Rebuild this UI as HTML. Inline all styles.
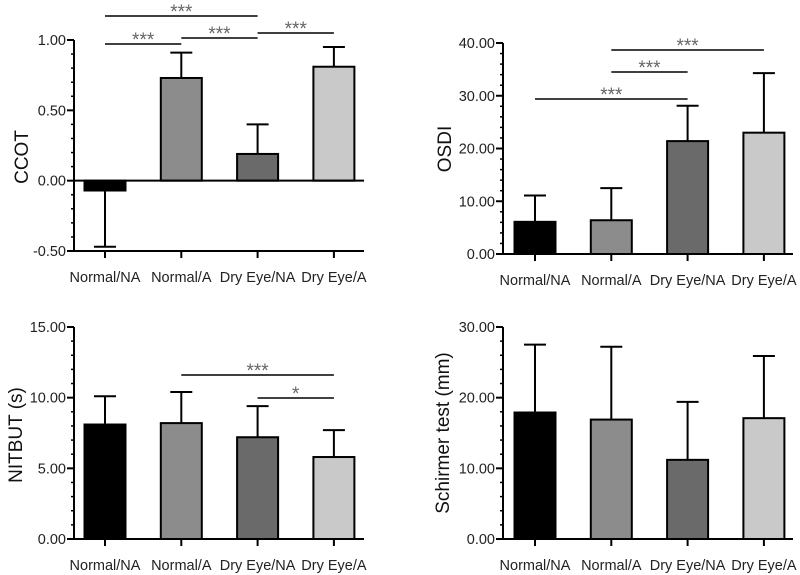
<!DOCTYPE html>
<html><head><meta charset="utf-8"><style>
body{margin:0;background:#fff}
svg{display:block;font-family:"Liberation Sans",Arial,sans-serif}
</style></head><body>
<svg id="c" width="800" height="575" viewBox="0 0 800 575" xmlns="http://www.w3.org/2000/svg"></svg>
<script>
const categories=["Normal/NA","Normal/A","Dry Eye/NA","Dry Eye/A"];
const ccotMeans=[-0.07,0.73,0.19,0.81];
const ccotErr=[-0.47,0.91,0.40,0.95];
const osdiMeans=[6.1,6.4,21.4,23.0];
const osdiErr=[11.1,12.5,28.1,34.3];
const nitbutMeans=[8.1,8.2,7.2,5.8];
const nitbutErr=[10.1,10.4,9.4,7.7];
const schirmerMeans=[17.9,16.9,11.2,17.1];
const schirmerErr=[27.5,27.2,19.4,25.9];
const ccotTicks=[-0.5,0,0.5,1.0];
const osdiTicks=[0,10,20,30,40];
const nitbutTicks=[0,5,10,15];
const schirmerTicks=[0,10,20,30];
const fills=["#000000","#8c8c8c","#6a6a6a","#c9c9c9"];
const NS="http://www.w3.org/2000/svg";
const svg=document.getElementById('c');
function mk(tag,at,parent,txt){const e=document.createElementNS(NS,tag);for(const k in at)e.setAttribute(k,at[k]);if(txt!==undefined)e.textContent=txt;(parent||svg).appendChild(e);return e;}
function panel(o){
  const g=mk('g',{});
  
  
  const y=v=>o.y0+(v-o.min)/(o.max-o.min)*(o.y1-o.y0);
  const x=i=>o.cx0+i*o.step;
  const bw=41;
  o.means.forEach((m,i)=>{
    const top=Math.min(y(m),y(o.base)),h=Math.abs(y(m)-y(o.base));
    const r=mk('rect',{x:x(i)-bw/2,y:top,width:bw,height:h,fill:fills[i],stroke:'#000','stroke-width':2},g);
    
    
    const e=o.err[i];
    const ey=y(m);
    const l=mk('path',{d:`M${x(i)},${ey}V${y(e)}M${x(i)-11},${y(e)}H${x(i)+11}`,stroke:'#000','stroke-width':2,fill:'none'},g);
    
    
  });
  const ax=mk('line',{x1:o.ax,x2:o.ax,y1:y(o.min),y2:y(o.max),stroke:'#000','stroke-width':2},g);
  
  
  for(let v=o.min;v<=o.max+1e-9;v+=o.minor){mk('line',{x1:o.ax-3,x2:o.ax,y1:y(v),y2:y(v),stroke:'#000','stroke-width':1.5},g);}
  o.ticks.forEach(t=>{
    mk('line',{x1:o.ax-7,x2:o.ax,y1:y(t),y2:y(t),stroke:'#000','stroke-width':2},g);
    const tl=mk('text',{x:o.ax-8,y:y(t)+5,'text-anchor':'end','font-size':14.5,fill:'#222'},g,t.toFixed(2));
    
    
  });
  const xa=mk('line',{x1:o.ax,x2:o.ax+290,y1:y(o.base),y2:y(o.base),stroke:'#000','stroke-width':2},g);
  
  
  if(o.base!==o.min){mk('line',{x1:o.ax,x2:o.ax+290,y1:y(o.min),y2:y(o.min),stroke:'#000','stroke-width':2},g);}
  categories.forEach((c,i)=>{
    mk('line',{x1:x(i),x2:x(i),y1:y(o.min),y2:y(o.min)+7,stroke:'#000','stroke-width':2},g);
    const t=mk('text',{x:x(i),y:y(o.min)+31,'text-anchor':'middle','font-size':14.5,fill:'#222'},g,c);
    
    
  });
  const tt=mk('text',{x:0,y:0,transform:`translate(${o.tx},${o.ty}) rotate(-90)`,'text-anchor':'middle','font-size':19,fill:'#111'},g,o.title);
  
  
  o.sig.forEach(s=>{
    const l=mk('line',{x1:x(s[0]),x2:x(s[1]),y1:s[2],y2:s[2],stroke:'#000','stroke-width':1.5},g);
    
    
    const t=mk('text',{x:(x(s[0])+x(s[1]))/2,y:s[2]+2,'text-anchor':'middle','font-size':19,fill:'#666'},g,s[3]);
    
    
  });
}
panel({name:'ccot',means:ccotMeans,err:ccotErr,ticks:ccotTicks,min:-0.5,max:1.0,base:0,y0:251,y1:40,ax:74,cx0:105,step:76.3,minor:0.1,title:'CCOT',tx:28,ty:157,
  sig:[[0,2,16,'***'],[0,1,44,'***'],[1,2,38,'***'],[2,3,33,'***']]});
panel({name:'osdi',means:osdiMeans,err:osdiErr,ticks:osdiTicks,min:0,max:40,base:0,y0:254,y1:43,ax:503,cx0:535,step:76.3,minor:2,title:'OSDI',tx:451,ty:149,
  sig:[[1,3,50,'***'],[1,2,72,'***'],[0,2,99,'***']]});
panel({name:'nitbut',means:nitbutMeans,err:nitbutErr,ticks:nitbutTicks,min:0,max:15,base:0,y0:539,y1:327,ax:74,cx0:105,step:76.3,minor:1,title:'NITBUT (s)',tx:22,ty:435,
  sig:[[1,3,375,'***'],[2,3,398,'*']]});
panel({name:'schirmer',means:schirmerMeans,err:schirmerErr,ticks:schirmerTicks,min:0,max:30,base:0,y0:539,y1:327,ax:503,cx0:535,step:76.3,minor:2,title:'Schirmer test (mm)',tx:449,ty:433,
  sig:[]});
</script>
</body></html>
